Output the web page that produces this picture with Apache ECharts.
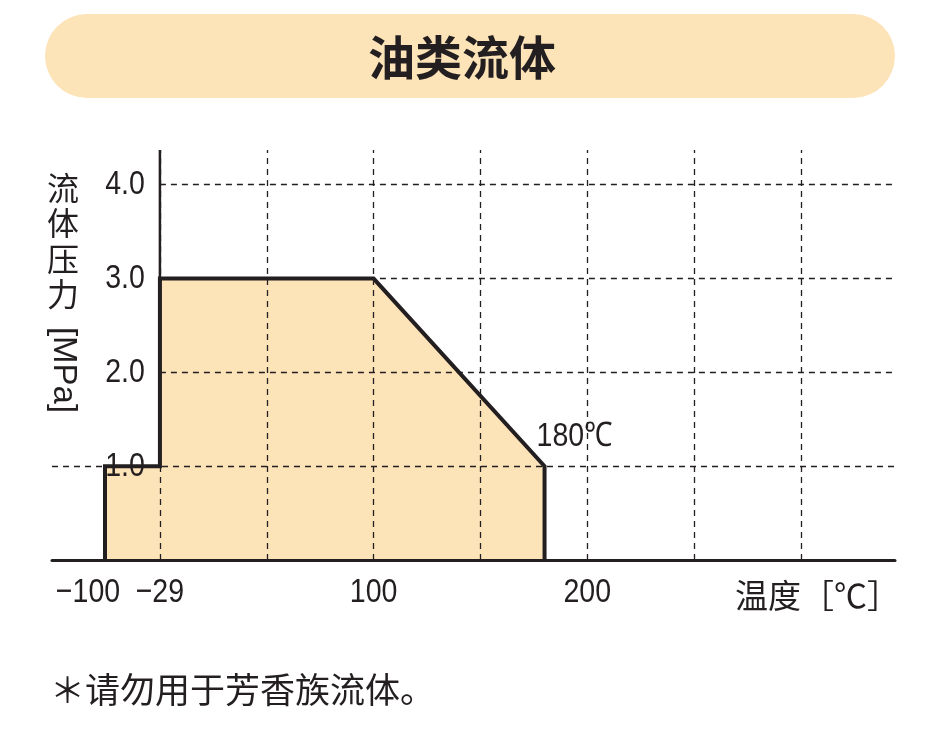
<!DOCTYPE html>
<html><head><meta charset="utf-8">
<script src="https://cdn.jsdelivr.net/npm/echarts@6/dist/echarts.min.js"></script>
<style>html,body{margin:0;padding:0;background:#fff}#c{width:939px;height:741px}</style>
</head><body><div id="c"></div>
<script>
// ---- data ----
const temps = [-100, -100, -29, -29, 100, 180, 180];
const pressures = [0, 1.0, 1.0, 3.0, 3.0, 1.0, 0];
const xTickTemps = [-100, -29, 100, 200];
const xTickLabels = ['−100', '−29', '100', '200'];
const xGridTemps = [-29, 50, 100, 150, 200, 250, 300];
const yTicks = [1, 2, 3, 4];
const yTickLabels = ['1.0', '2.0', '3.0', '4.0'];
const pointTemp = 180, pointPressure = 1.0, pointLabel = '180℃';
const titleText = '油类流体';
const yTitleCJK = '流体压力';
const yTitleUnit = '[MPa]';
const xTitle = '温度［℃］';
const footNote = '＊请勿用于芳香族流体。';

// schematic (broken) temperature scale of the original drawing
function pos(t) {
  if (t >= 50) return t;
  if (t >= -29) return (t + 29) * 50 / 79;
  return (t + 29) * 25.7 / 71;
}
const X_MIN = -50.5, X_MAX = 344, Y_MAX = 4.37;
const INK = '#231f20', FILL = '#FDE3B8';
const NUM_FONT = '34px "Liberation Sans", Arial, sans-serif';
const NARROW = 0.84;
const CJK_FONT = '"Noto Sans CJK SC", sans-serif';

const shape = temps.map((t, i) => [pos(t), pressures[i]]);

const gridLines = [];
yTicks.forEach(v => gridLines.push([{coord: [v === 1 ? X_MIN : pos(-29), v]}, {coord: [X_MAX, v]}]));
xGridTemps.forEach(t => gridLines.push([{coord: [pos(t), 0]}, {coord: [pos(t), Y_MAX]}]));

function textEl(x, y, text, align) {
  return {type: 'text', x: x, y: y, scaleX: NARROW, scaleY: 1,
    style: {text: text, fill: INK, font: NUM_FONT, align: align, verticalAlign: 'middle'}};
}

const chart = echarts.init(document.getElementById('c'), null, {renderer: 'canvas'});
chart.setOption({
  animation: false,
  backgroundColor: '#fff',
  grid: {left: 52, right: 44, top: 150, bottom: 181, containLabel: false, outerBoundsMode: 'none'},
  xAxis: {
    type: 'value', min: X_MIN, max: X_MAX, z: 10,
    axisLine: {show: true, onZero: false, lineStyle: {color: INK, width: 3}},
    axisTick: {show: false}, splitLine: {show: false}, axisLabel: {show: false}
  },
  yAxis: {
    type: 'value', min: 0, max: Y_MAX,
    axisLine: {show: false}, axisTick: {show: false}, splitLine: {show: false}, axisLabel: {show: false}
  },
  series: [
    {
      type: 'line', data: shape, symbol: 'none', z: 1, silent: true,
      lineStyle: {width: 0}, areaStyle: {color: FILL, opacity: 1},
      markLine: {
        silent: true, symbol: ['none', 'none'], z: 5,
        label: {show: false},
        lineStyle: {color: INK, width: 1.3, type: [6, 5]},
        data: gridLines
      }
    },
    {
      type: 'line', data: shape, symbol: 'none', z: 6, silent: true,
      lineStyle: {color: INK, width: 4, join: 'miter'}
    },
    {
      type: 'line', data: [[pos(-29), 1.0], [pos(-29), Y_MAX]], symbol: 'none', z: 6, silent: true,
      lineStyle: {color: INK, width: 2.5}
    },
    { // y tick labels
      type: 'custom', coordinateSystem: 'cartesian2d', clip: false, silent: true, z: 20,
      data: yTicks.map(v => [pos(-29), v]),
      renderItem: (params, api) => {
        const p = api.coord([api.value(0), api.value(1)]);
        return textEl(p[0] - 15, p[1], yTickLabels[params.dataIndex], 'right');
      }
    },
    { // x tick labels
      type: 'custom', coordinateSystem: 'cartesian2d', clip: false, silent: true, z: 20,
      data: xTickTemps.map(t => [pos(t), 0]),
      renderItem: (params, api) => {
        const p = api.coord([api.value(0), api.value(1)]);
        const shift = params.dataIndex === 0 ? -17 : 0;
        return textEl(p[0] + shift, p[1] + 33, xTickLabels[params.dataIndex], 'center');
      }
    },
    { // point annotation
      type: 'custom', coordinateSystem: 'cartesian2d', clip: false, silent: true, z: 20,
      data: [[pos(pointTemp), pointPressure]],
      renderItem: (params, api) => {
        const p = api.coord([api.value(0), api.value(1)]);
        return textEl(p[0] - 8, p[1] - 30, pointLabel, 'left');
      }
    }
  ],
  graphic: [
    {type: 'rect', shape: {x: 45, y: 14, width: 850, height: 84, r: 42}, style: {fill: FILL}, z: 0},
    {type: 'text', x: 462, y: 57, style: {text: titleText, fill: INK, font: 'bold 47px ' + CJK_FONT, align: 'center', verticalAlign: 'middle'}},
    {type: 'text', x: 63, y: 170, style: {text: yTitleCJK.split('').join('\n'), fill: INK, font: '32px ' + CJK_FONT, lineHeight: 35.5, align: 'center', verticalAlign: 'top'}},
    {type: 'text', x: 63, y: 370, rotation: -Math.PI / 2, style: {text: yTitleUnit, fill: INK, font: '33px "Liberation Sans", sans-serif', align: 'center', verticalAlign: 'middle'}},
    {type: 'text', x: 735, y: 595, style: {text: xTitle, fill: INK, font: '33px ' + CJK_FONT, align: 'left', verticalAlign: 'middle'}},
    {type: 'text', x: 50, y: 690, style: {text: footNote, fill: INK, font: '35px ' + CJK_FONT, align: 'left', verticalAlign: 'middle'}}
  ]
});
</script></body></html>
